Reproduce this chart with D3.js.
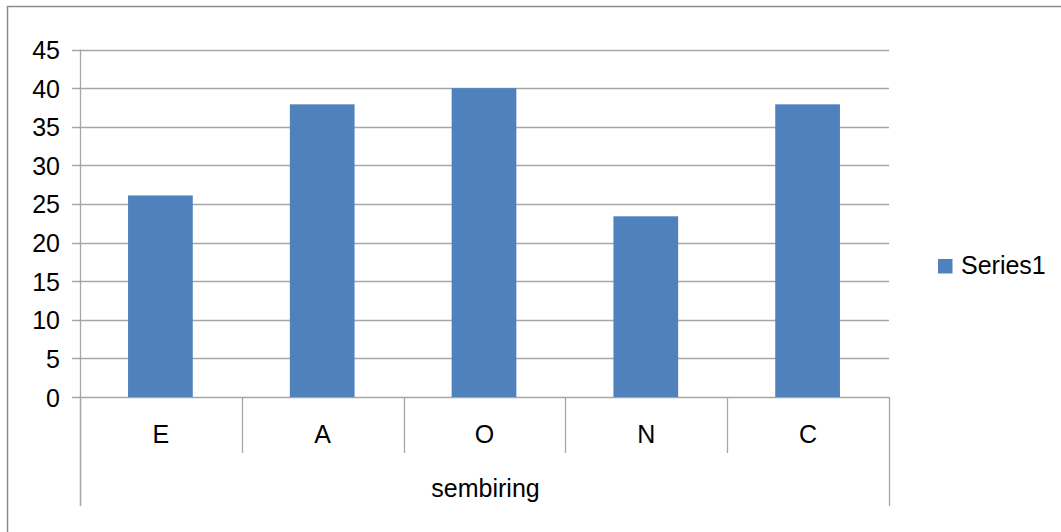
<!DOCTYPE html>
<html>
<head>
<meta charset="utf-8">
<script src="https://cdn.jsdelivr.net/npm/d3@7"></script>
<style>
  html, body { margin: 0; padding: 0; background: #fff; }
  svg { display: block; }
  text { font-family: "Liberation Sans", Arial, sans-serif; fill: #000; }
</style>
</head>
<body>
<script>
const categories = ["E", "A", "O", "N", "C"];
const values = [26.1, 37.9, 40, 23.4, 37.9];
const yTicks = [0, 5, 10, 15, 20, 25, 30, 35, 40, 45];
const seriesName = "Series1";
const axisTitle = "sembiring";

const W = 1061, H = 532;
const plotLeft = 80, plotRight = 889, plotTop = 49.5, plotBottom = 397;
const barColor = "#4f81bd";
const gridColor = "#a6a6a6";
const fontSize = 25;

const svg = d3.select("body").append("svg").attr("width", W).attr("height", H);

// outer border
svg.append("rect").attr("x", 7.5).attr("y", 6.5).attr("width", W + 10).attr("height", H + 10)
  .attr("fill", "none").attr("stroke", "#8c8c8c").attr("stroke-width", 1.5);

const y = d3.scaleLinear().domain([0, 45]).range([plotBottom, plotTop]);
const x = d3.scaleBand().domain(categories).range([plotLeft, plotRight]).padding(0);

// gridlines + ticks
svg.append("g").selectAll("line").data(yTicks).join("line")
  .attr("x1", plotLeft - 8).attr("x2", plotRight)
  .attr("y1", d => Math.round(y(d)) + 0.5).attr("y2", d => Math.round(y(d)) + 0.5)
  .attr("stroke", gridColor).attr("stroke-width", 1.3);

// y labels
svg.append("g").selectAll("text").data(yTicks).join("text")
  .attr("x", 60).attr("y", d => y(d)).attr("dy", "0.38em")
  .attr("text-anchor", "end").attr("font-size", fontSize).text(d => d);

// y axis line
svg.append("line").attr("x1", plotLeft + 0.5).attr("x2", plotLeft + 0.5).attr("y1", plotTop).attr("y2", 506)
  .attr("stroke", gridColor).attr("stroke-width", 1.3);

// bars
const bw = x.bandwidth() * 0.4;
svg.append("g").selectAll("rect").data(categories).join("rect")
  .attr("x", (d) => x(d) + x.bandwidth() / 2 - bw / 2 - 0.5)
  .attr("width", bw)
  .attr("y", (d, i) => y(values[i]))
  .attr("height", (d, i) => y(0) - y(values[i]))
  .attr("fill", barColor);

// category dividers
const divs = categories.map(c => x(c)).concat([x(categories[categories.length - 1]) + x.bandwidth()]);
svg.append("g").selectAll("line").data(divs).join("line")
  .attr("x1", d => Math.round(d) + 0.5).attr("x2", d => Math.round(d) + 0.5)
  .attr("y1", plotBottom).attr("y2", (d, i) => (i === 0 || i === divs.length - 1) ? 506 : 453)
  .attr("stroke", gridColor).attr("stroke-width", 1.3);

// category labels
svg.append("g").selectAll("text").data(categories).join("text")
  .attr("x", d => x(d) + x.bandwidth() / 2).attr("y", 443)
  .attr("text-anchor", "middle").attr("font-size", fontSize).text(d => d);

// axis title
svg.append("text").attr("x", (plotLeft + plotRight) / 2 + 1).attr("y", 497)
  .attr("text-anchor", "middle").attr("font-size", fontSize).text(axisTitle);

// legend
svg.append("rect").attr("x", 938).attr("y", 259).attr("width", 14.5).attr("height", 14.5).attr("fill", barColor);
svg.append("text").attr("x", 961).attr("y", 274).attr("font-size", fontSize).text(seriesName);
</script>
</body>
</html>
